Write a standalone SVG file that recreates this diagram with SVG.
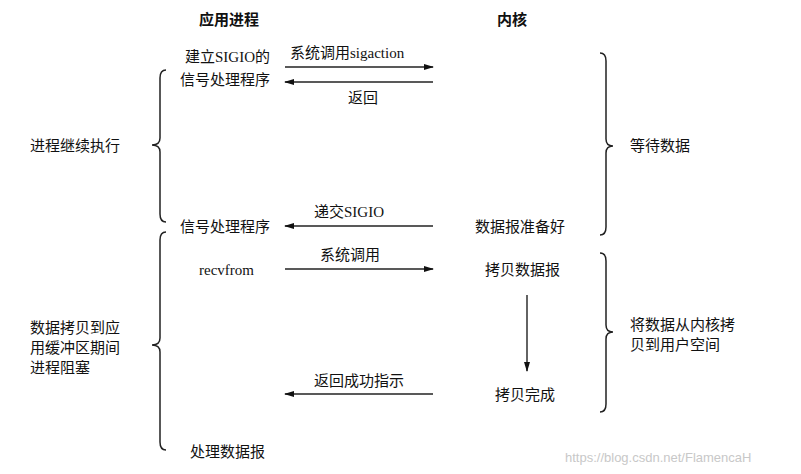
<svg xmlns="http://www.w3.org/2000/svg" width="801" height="474" viewBox="0 0 801 474">
<defs>
<marker id="ah" markerWidth="10" markerHeight="8" refX="9" refY="4" orient="auto" markerUnits="userSpaceOnUse"><path d="M0,1 L10,4 L0,7 z" fill="#111"/></marker>
<style>
text{font-family:"Liberation Serif","Noto Sans CJK SC",serif;font-size:15px;fill:#111}
.b{font-weight:bold}
.c{stroke:#222;stroke-width:1.5;fill:none}
.a{stroke:#222;stroke-width:1.4;fill:none;marker-end:url(#ah)}
.w{font-family:"Liberation Sans",sans-serif;font-size:13px;fill:#c8c8c8}
</style>
</defs>
<rect width="801" height="474" fill="#fff"/>
<g id="headers"><text class="b" x="199" y="25">应用进程</text><text class="b" x="497" y="25">内核</text></g>
<g id="braces">
<path class="c" d="M166,70 Q160,70 160,78 L160,138 Q160,145 152,145 Q160,145 160,152 L160,214 Q160,222 166,222"/>
<path class="c" d="M166,232 Q160,232 160,240 L160,338 Q160,345 152,345 Q160,345 160,352 L160,442 Q160,450 166,450"/>
<path class="c" d="M600,53 Q606,53 606,61 L606,139 Q606,146 613,146 Q606,146 606,153 L606,227 Q606,235 600,235"/>
<path class="c" d="M600,253 Q606,253 606,261 L606,325 Q606,332 613,332 Q606,332 606,339 L606,404 Q606,412 600,412"/>
</g>
<g id="left-labels">
<text x="30" y="151">进程继续执行</text>
<text x="30" y="333">数据拷贝到应</text><text x="30" y="353">用缓冲区期间</text><text x="30" y="373">进程阻塞</text>
</g>
<g id="right-labels">
<text x="630" y="151">等待数据</text>
<text x="630" y="330">将数据从内核拷</text><text x="630" y="350">贝到用户空间</text>
</g>
<g id="app">
<text x="185" y="62">建立SIGIO的</text><text x="180" y="85">信号处理程序</text>
<text x="180" y="232">信号处理程序</text>
<text x="199" y="275">recvfrom</text>
<text x="190" y="457">处理数据报</text>
</g>
<g id="kernel">
<text x="475" y="232">数据报准备好</text>
<text x="485" y="275">拷贝数据报</text>
<text x="495" y="400">拷贝完成</text>
</g>
<g id="connectors">
<line class="a" x1="285" y1="67" x2="433" y2="67"/><text x="290" y="58">系统调用sigaction</text>
<line class="a" x1="433" y1="82" x2="285" y2="82"/><text x="348" y="103">返回</text>
<line class="a" x1="433" y1="226" x2="285" y2="226"/><text x="314" y="217">递交SIGIO</text>
<line class="a" x1="285" y1="269" x2="433" y2="269"/><text x="320" y="260">系统调用</text>
<line class="a" x1="527" y1="295" x2="527" y2="371"/>
<line class="a" x1="433" y1="394" x2="285" y2="394"/><text x="314" y="386">返回成功指示</text>
</g>
<text class="w" x="565" y="462">https://blog.csdn.net/FlamencaH</text>
</svg>
